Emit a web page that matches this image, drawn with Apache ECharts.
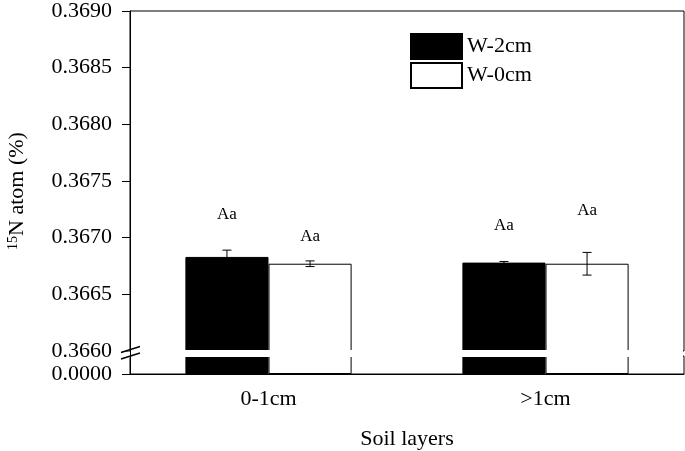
<!DOCTYPE html>
<html><head><meta charset="utf-8">
<script src="https://cdn.jsdelivr.net/npm/echarts@6/dist/echarts.min.js"></script>
<style>html,body{margin:0;padding:0;background:#fff}#c{width:685px;height:451px}</style>
</head><body><div id="c"></div>
<script>
// ---- data ----
const categories = ['0-1cm', '>1cm'];
const seriesNames = ['W-2cm', 'W-0cm'];
const w2Values = [0.36683, 0.36678];
const w2Errors = [0.00006, 0.00001];
const w0Values = [0.36677, 0.36677];
const w0Errors = [0.000025, 0.0001];
const w2Letters = ['Aa', 'Aa'];
const w0Letters = ['Aa', 'Aa'];
const w2LetterAt = [0.36720, 0.36711];
const w0LetterAt = [0.36701, 0.36724];
const upperMin = 0.3660, upperMax = 0.3690, upperStep = 0.0005;
const lowerMin = 0, lowerMax = 0.00016;

// ---- chart ----
const FONT = 'Liberation Serif';
const chart = echarts.init(document.getElementById('c'), null, {renderer: 'canvas'});
const GAP = '40%';

function carrier(vals, tops) { return tops.map((t, i) => t - vals[i]); }
function errData(vals, errs, side) { return vals.map((v, i) => [i, v, errs[i], side]); }
// lower segment of the broken axis shows each bar cut at the segment top
function lowerPart(vals) { return vals.map(v => Math.min(v, lowerMax)); }

const barCommon = {barGap: '0%', barCategoryGap: GAP, silent: true};

const option = {
  animation: false,
  backgroundColor: '#fff',
  textStyle: {fontFamily: FONT, color: '#000'},
  grid: [
    {left: 130, right: 1, top: 8, height: 343, show: true, borderColor: '#000', borderWidth: 1, backgroundColor: 'transparent'},
    {left: 130, right: 1, top: 356, height: 19, show: true, borderColor: '#000', borderWidth: 1, backgroundColor: 'transparent'}
  ],
  legend: {
    data: seriesNames, orient: 'vertical', left: 405, top: 28, icon: 'rect',
    itemWidth: 51, itemHeight: 25, itemGap: 2, selectedMode: false,
    textStyle: {fontFamily: FONT, fontSize: 22, color: '#000'}
  },
  xAxis: [
    {type: 'category', gridIndex: 0, data: categories, show: false},
    {type: 'category', gridIndex: 1, data: categories,
     axisLine: {lineStyle: {color: '#000', width: 1}},
     axisTick: {alignWithLabel: true, length: 9, lineStyle: {color: '#000'}},
     axisLabel: {fontFamily: FONT, fontSize: 22, color: '#000', margin: 14},
     name: 'Soil layers', nameLocation: 'middle', nameGap: 54,
     nameTextStyle: {fontFamily: FONT, fontSize: 22, color: '#000'}},
    {type: 'category', gridIndex: 1, data: categories,
     axisLine: {show: false},
     axisTick: {length: 4, lineStyle: {color: '#000'}},
     axisLabel: {show: false}}
  ],
  yAxis: [
    {type: 'value', gridIndex: 0, min: upperMin, max: upperMax, interval: upperStep,
     axisLine: {show: true, lineStyle: {color: '#000', width: 1}},
     axisTick: {show: true, inside: false, length: 8, lineStyle: {color: '#000'}},
     axisLabel: {fontFamily: FONT, fontSize: 22, color: '#000', margin: 18, formatter: v => v.toFixed(4)},
     splitLine: {show: false}},
    {type: 'value', gridIndex: 1, min: lowerMin, max: lowerMax, interval: lowerMax,
     axisLine: {show: true, lineStyle: {color: '#000', width: 1}},
     axisTick: {show: true, inside: false, length: 8, lineStyle: {color: '#000'}},
     axisLabel: {fontFamily: FONT, fontSize: 22, color: '#000', margin: 18, formatter: v => v === 0 ? (0).toFixed(4) : ''},
     splitLine: {show: false}}
  ],
  series: [
    Object.assign({type: 'bar', name: seriesNames[0], xAxisIndex: 0, yAxisIndex: 0, stack: 'b', data: w2Values,
      itemStyle: {color: '#000', borderColor: '#000', borderWidth: 1}}, barCommon),
    Object.assign({type: 'bar', name: 'lbl2', xAxisIndex: 0, yAxisIndex: 0, stack: 'b', data: carrier(w2Values, w2LetterAt),
      itemStyle: {color: 'rgba(0,0,0,0)'},
      label: {show: true, position: 'top', distance: 0, verticalAlign: 'middle', fontFamily: FONT, fontSize: 17, color: '#000',
        formatter: p => w2Letters[p.dataIndex]}}, barCommon),
    Object.assign({type: 'bar', name: seriesNames[1], xAxisIndex: 0, yAxisIndex: 0, stack: 'w', data: w0Values,
      itemStyle: {color: '#fff', borderColor: '#000', borderWidth: 1}}, barCommon),
    Object.assign({type: 'bar', name: 'lbl0', xAxisIndex: 0, yAxisIndex: 0, stack: 'w', data: carrier(w0Values, w0LetterAt),
      itemStyle: {color: 'rgba(0,0,0,0)'},
      label: {show: true, position: 'top', distance: 0, verticalAlign: 'middle', fontFamily: FONT, fontSize: 17, color: '#000',
        formatter: p => w0Letters[p.dataIndex]}}, barCommon),
    Object.assign({type: 'bar', name: seriesNames[0], xAxisIndex: 1, yAxisIndex: 1, data: lowerPart(w2Values),
      itemStyle: {color: '#000', borderColor: '#000', borderWidth: 1}}, barCommon),
    Object.assign({type: 'bar', name: seriesNames[1], xAxisIndex: 1, yAxisIndex: 1, data: lowerPart(w0Values),
      itemStyle: {color: '#fff', borderColor: '#000', borderWidth: 1}}, barCommon),
    {type: 'custom', name: 'err', xAxisIndex: 0, yAxisIndex: 0, silent: true, z: 5,
     data: errData(w2Values, w2Errors, -1).concat(errData(w0Values, w0Errors, 1)),
     encode: {x: 0, y: 1},
     renderItem: function (params, api) {
       const cat = api.value(0), v = api.value(1), e = api.value(2), side = api.value(3);
       const barW = api.size([1, 0])[0] * 0.6 / 2;
       const x = api.coord([cat, v])[0] + side * barW / 2;
       const yHi = api.coord([cat, v + e])[1];
       const yLo = api.coord([cat, v - e])[1];
       const cap = 4.5;
       const st = {stroke: '#000', lineWidth: 1};
       return {type: 'group', children: [
         {type: 'line', shape: {x1: x, y1: yHi, x2: x, y2: yLo}, style: st},
         {type: 'line', shape: {x1: x - cap, y1: yHi, x2: x + cap, y2: yHi}, style: st},
         {type: 'line', shape: {x1: x - cap, y1: yLo, x2: x + cap, y2: yLo}, style: st}
       ]};
     }}
  ],
  graphic: [
    {type: 'rect', z: 100, shape: {x: 131, y: 350, width: 552, height: 7}, style: {fill: '#fff'}},
    {type: 'rect', z: 100, shape: {x: 118, y: 351.5, width: 13, height: 6}, style: {fill: '#fff'}},
    {type: 'line', z: 101, shape: {x1: 130.5, y1: 349, x2: 130.5, y2: 358}, style: {stroke: '#000', lineWidth: 1}},
    {type: 'line', z: 101, shape: {x1: 121, y1: 352.5, x2: 140, y2: 346.5}, style: {stroke: '#000', lineWidth: 1.4}},
    {type: 'line', z: 101, shape: {x1: 121, y1: 359, x2: 140, y2: 353}, style: {stroke: '#000', lineWidth: 1.4}},
    {type: 'text', z: 101, x: 17, y: 191, rotation: Math.PI / 2,
     style: {text: '{sup|15}N atom (%)', align: 'center', verticalAlign: 'middle', fill: '#000',
       font: '22px "Liberation Serif"',
       rich: {sup: {fontSize: 14, fontFamily: FONT, verticalAlign: 'top', padding: [0, 0, 8, 0]}}}}
  ]
};
chart.setOption(option);
</script>
</body></html>
